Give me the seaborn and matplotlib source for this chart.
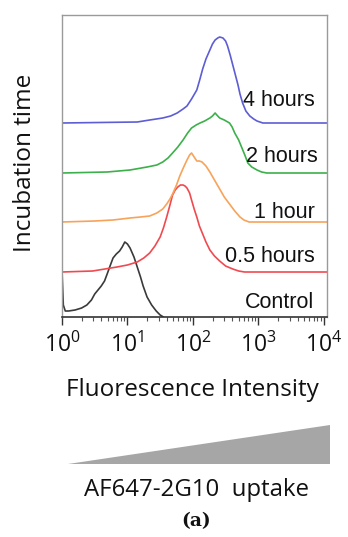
import numpy as np
import pandas as pd
import matplotlib
matplotlib.use("Agg")
import matplotlib.pyplot as plt
from matplotlib.patches import Polygon
import seaborn as sns

# ---- data (log10 fluorescence positions and histogram heights) ----
samples = ["Control", "0.5 hours", "1 hour", "2 hours", "4 hours"]
colors = ["#3a3a3a", "#f04a50", "#f7a35a", "#3cb04a", "#5d5dd4"]
offsets = [0, 45, 95, 144, 194]

control_logx = [0.0, 0.0, 0.02, 0.05, 0.1, 0.2, 0.3, 0.38, 0.45, 0.5, 0.55, 0.6, 0.65, 0.69, 0.74,
                0.78, 0.83, 0.88, 0.92, 0.96, 1.0, 1.04, 1.1, 1.15, 1.2, 1.24, 1.3, 1.37, 1.44, 1.5, 1.55]
control_count = [40, 46, 12, 6, 6, 7, 9, 12, 17, 23, 27, 31, 36, 43, 52, 59, 63, 66, 70, 75, 73, 69,
                 60, 50, 40, 31, 20, 12, 6, 2, 0]

h05_logx = [0.0, 0.47, 0.84, 1.0, 1.15, 1.25, 1.34, 1.42, 1.5, 1.55, 1.6, 1.65, 1.69, 1.73, 1.77, 1.81,
            1.85, 1.88, 1.91, 1.95, 1.98, 2.02, 2.06, 2.1, 2.15, 2.2, 2.26, 2.33, 2.41, 2.5, 2.61, 2.7, 2.79, 4.05]
h05_count = [0, 1, 5, 7, 10, 14, 19, 26, 35, 44, 55, 67, 77, 82, 85, 87, 87, 86, 84, 79, 72, 63, 55,
             46, 38, 30, 22, 16, 11, 6, 3, 1, 0, 0]

h1_logx = [0.0, 0.5, 0.78, 1.04, 1.2, 1.34, 1.45, 1.54, 1.6, 1.65, 1.69, 1.75, 1.8, 1.86, 1.91, 1.95,
           1.98, 2.02, 2.06, 2.1, 2.14, 2.2, 2.26, 2.33, 2.41, 2.48, 2.56, 2.64, 2.72, 2.78, 2.82, 2.86, 4.05]
h1_count = [0, 1, 2, 4, 5, 6, 9, 13, 18, 23, 28, 37, 46, 55, 62, 67, 69, 65, 61, 61, 60, 56, 50, 42,
            33, 25, 18, 11, 5, 2, 1, 0, 0]

h2_logx = [0.0, 0.69, 1.04, 1.3, 1.45, 1.54, 1.62, 1.69, 1.77, 1.85, 1.92, 1.98, 2.05, 2.11, 2.18, 2.26,
           2.3, 2.34, 2.38, 2.41, 2.48, 2.56, 2.6, 2.64, 2.7, 2.75, 2.8, 2.84, 2.9, 2.98, 3.05, 3.13, 4.05]
h2_count = [0, 1, 3, 6, 8, 11, 15, 20, 26, 33, 40, 45, 48, 50, 52, 55, 57, 60, 57, 55, 53, 50, 46,
            40, 33, 25, 17, 10, 6, 3, 1, 0, 0]

h4_logx = [0.0, 1.15, 1.34, 1.54, 1.66, 1.76, 1.85, 1.91, 1.98, 2.06, 2.1, 2.15, 2.2, 2.26, 2.3, 2.34,
           2.38, 2.41, 2.46, 2.5, 2.53, 2.57, 2.61, 2.65, 2.69, 2.72, 2.76, 2.81, 2.87, 2.93, 2.98, 3.07, 4.05]
h4_count = [0, 1, 3, 5, 7, 10, 14, 17, 24, 33, 42, 54, 64, 73, 79, 83, 85, 86, 85, 82, 77, 68, 58,
            48, 38, 29, 20, 12, 7, 4, 2, 0, 0]

tick_values = [1, 10, 100, 1000, 10000]
tick_labels = [r"$\mathregular{10^{0}}$", r"$\mathregular{10^{1}}$", r"$\mathregular{10^{2}}$",
               r"$\mathregular{10^{3}}$", r"$\mathregular{10^{4}}$"]

series = [(control_logx, control_count), (h05_logx, h05_count), (h1_logx, h1_count),
          (h2_logx, h2_count), (h4_logx, h4_count)]

rows = []
for name, off, (lx, cnt) in zip(samples, offsets, series):
    for i, (a, b) in enumerate(zip(lx, cnt)):
        rows.append({"sample": name, "order": i, "intensity": 10 ** a, "y": b + off})
df = pd.DataFrame(rows)

sns.set_theme(style="white")
plt.rcParams["font.family"] = ["Open Sans", "DejaVu Sans"]
plt.rcParams["mathtext.fontset"] = "custom"
plt.rcParams["mathtext.rm"] = "Open Sans"

fig = plt.figure(figsize=(3.48, 5.37), dpi=100)
ax = fig.add_axes([62 / 348, 1 - 317 / 537, 265 / 348, 302 / 537])

sns.lineplot(data=df, x="intensity", y="y", hue="sample", palette=dict(zip(samples, colors)),
             sort=False, estimator=None, units="sample", legend=False, lw=1.2, ax=ax)

ax.set_xscale("log")
ax.set_xlim(1, 10 ** 4.05)
ax.set_ylim(0, 302)
ax.set_yticks([])
ax.set_xticks(tick_values)
ax.set_xticklabels(tick_labels, fontsize=16.5, color="#111111")
ax.tick_params(axis="x", which="major", direction="out", length=6, width=1, color="#333333", pad=5, bottom=True)
ax.tick_params(axis="x", which="minor", direction="out", length=3, width=0.8, color="#555555", bottom=True)
ax.set_xlabel("")
ax.set_ylabel("")
for side in ["top", "right", "left"]:
    ax.spines[side].set_color("#9a9a9a")
    ax.spines[side].set_linewidth(1.0)
ax.spines["bottom"].set_color("#333333")
ax.spines["bottom"].set_linewidth(1.2)

# curve labels
label_pos = [(10 ** 3.86, 15), (10 ** 3.86, 60), (10 ** 3.86, 105), (10 ** 3.91, 160), (10 ** 3.87, 217)]
for name, (lx, ly) in zip(samples, label_pos):
    ax.text(lx, ly, name, ha="right", va="center", fontsize=15.5, family="Liberation Sans", color="#111111")

fig.text(25 / 348, 1 - 163 / 537, "Incubation time", rotation=90, ha="center", va="center",
         fontsize=17.5, color="#111111")
fig.text(192 / 348, 1 - 390 / 537, "Fluorescence Intensity", ha="center", va="center",
         fontsize=17.5, color="#111111")

tri = Polygon([(68 / 348, 1 - 464 / 537), (330 / 348, 1 - 425 / 537), (330 / 348, 1 - 464 / 537)],
              closed=True, transform=fig.transFigure, facecolor="#a6a6a6", edgecolor="none")
fig.patches.append(tri)

fig.text(196 / 348, 1 - 490 / 537, "AF647-2G10  uptake", ha="center", va="center",
         fontsize=17.3, color="#111111")
fig.text(196 / 348, 1 - 521 / 537, "(a)", ha="center", va="center", fontsize=13.5,
         family="DejaVu Serif", fontweight="bold", color="#111111")

fig.savefig("out.png", dpi=100)
